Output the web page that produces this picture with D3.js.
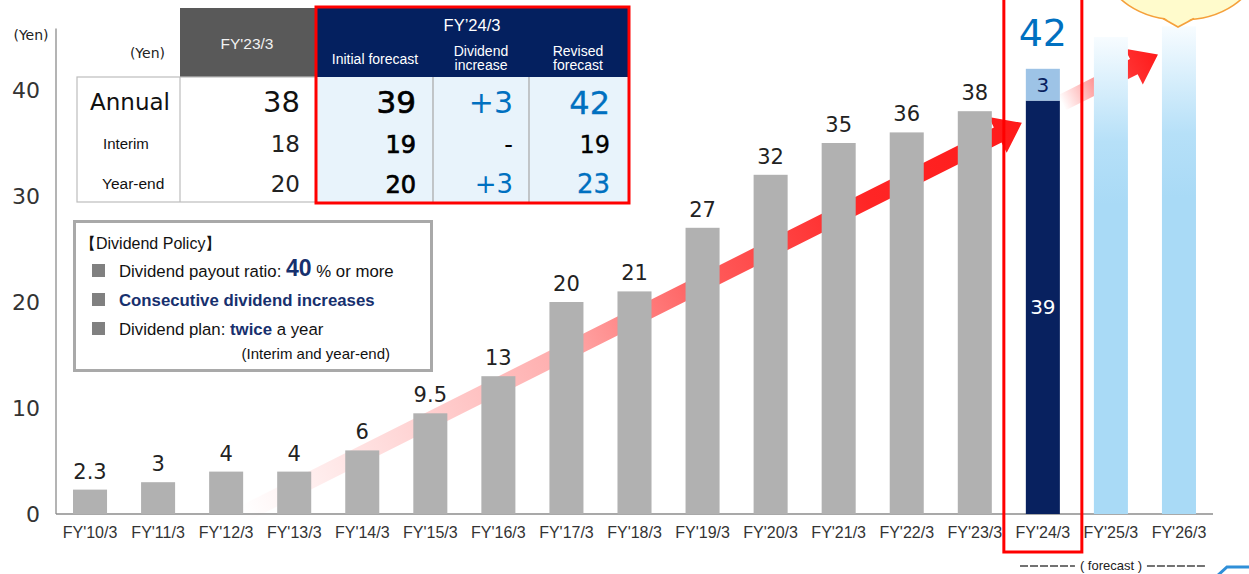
<!DOCTYPE html>
<html>
<head>
<meta charset="utf-8">
<script src="https://cdn.jsdelivr.net/npm/d3@7"></script>
<style>
  html, body { margin: 0; padding: 0; background: #fff; }
  svg { display: block; }
</style>
</head>
<body>
<svg id="chart" width="1249" height="574"></svg>
<script>
// ---- Data -------------------------------------------------------------
const categories = ["FY'10/3","FY'11/3","FY'12/3","FY'13/3","FY'14/3","FY'15/3","FY'16/3",
  "FY'17/3","FY'18/3","FY'19/3","FY'20/3","FY'21/3","FY'22/3","FY'23/3","FY'24/3","FY'25/3","FY'26/3"];
const actualDividends = [2.3, 3, 4, 4, 6, 9.5, 13, 20, 21, 27, 32, 35, 36, 38]; // FY'10/3 – FY'23/3
const fy24Initial = 39;
const fy24Increase = 3;
const fy24Revised = fy24Initial + fy24Increase;
const forecastCategories = ["FY'25/3", "FY'26/3"];
const forecastLevels = [45, 46];
const yTicks = [0, 10, 20, 30, 40];

const tableRows = ["Annual", "Interim", "Year-end"];
const fy23Values = ["38", "18", "20"];
const initialForecast = ["39", "19", "20"];
const dividendIncrease = ["+3", "-", "+3"];
const revisedForecast = ["42", "19", "23"];

// ---- Scales -----------------------------------------------------------
const svg = d3.select("#chart");
const x = d3.scaleBand().domain(categories).range([56, 1213]).paddingInner(0.5).paddingOuter(0.25);
const y = d3.scaleLinear().domain([0, 40]).range([514, 90]);
const bw = x.bandwidth();
const cx = c => x(c) + bw / 2;

const NUM = "'DejaVu Sans', Verdana, sans-serif";
const SANS = "'Liberation Sans', Arial, sans-serif";
const NAVY = "#08215f";
const BLUE = "#0070c0";

const defs = svg.append("defs");

// ---- Growth arrows (drawn behind the bars) ----------------------------
function arrowPoints(s, t, w, h, L) {
  const dx = t[0] - s[0], dy = t[1] - s[1];
  const len = Math.hypot(dx, dy);
  const ux = dx / len, uy = dy / len;
  const nx = -uy, ny = ux;
  const neck = [t[0] - ux * L, t[1] - uy * L];
  return [
    [s[0] + nx * w, s[1] + ny * w],
    [neck[0] + nx * w, neck[1] + ny * w],
    [neck[0] + nx * h, neck[1] + ny * h],
    t,
    [neck[0] - nx * h, neck[1] - ny * h],
    [neck[0] - nx * w, neck[1] - ny * w],
    [s[0] - nx * w, s[1] - ny * w]
  ];
}
function addArrowGradient(id, s, t, stops) {
  const g = defs.append("linearGradient").attr("id", id)
    .attr("gradientUnits", "userSpaceOnUse")
    .attr("x1", s[0]).attr("y1", s[1]).attr("x2", t[0]).attr("y2", t[1]);
  stops.forEach(([o, a]) => g.append("stop").attr("offset", o).attr("stop-color", "#ff1a1a").attr("stop-opacity", a));
}
const tail = [x("FY'12/3") + bw, y(0)];
const tip1 = [x("FY'24/3") - 4, y(36.9)];
const slope = (tip1[1] - tail[1]) / (tip1[0] - tail[0]);
const onLine = px => [px, tail[1] + slope * (px - tail[0])];
const start2 = onLine(x("FY'24/3") + bw + 2);
const tip2 = onLine(x("FY'26/3") - 4);

addArrowGradient("arrowGrad1", tail, tip1, [[0, 0], [0.12, 0.1], [0.4, 0.35], [0.6, 0.72], [0.8, 0.95], [1, 1]]);
addArrowGradient("arrowGrad2", start2, tip2, [[0, 0], [0.35, 0.45], [0.7, 0.9], [1, 1]]);

const line = d3.line();
svg.append("path").attr("d", line(arrowPoints(tail, tip1, 8.5, 20, 27)) + "Z").attr("fill", "url(#arrowGrad1)");
svg.append("path").attr("d", line(arrowPoints(start2, tip2, 8.5, 20, 27)) + "Z").attr("fill", "url(#arrowGrad2)");

// ---- Axes -------------------------------------------------------------
svg.append("line").attr("x1", 56).attr("x2", 56).attr("y1", y(45.8)).attr("y2", y(0))
  .attr("stroke", "#8c8c8c").attr("stroke-width", 1.3);
svg.append("line").attr("x1", 56).attr("x2", 1213).attr("y1", y(0)).attr("y2", y(0))
  .attr("stroke", "#8c8c8c").attr("stroke-width", 1.3);

const yAxis = svg.append("g").attr("transform", "translate(40,0)")
  .call(d3.axisLeft(y).tickValues(yTicks).tickSize(0).tickPadding(0));
yAxis.select(".domain").remove();
yAxis.selectAll("text").attr("font-family", NUM).attr("font-size", 22).attr("fill", "#333");

svg.append("text").attr("x", 31).attr("y", 40).attr("text-anchor", "middle")
  .attr("font-family", NUM).attr("font-size", 14).attr("fill", "#222").text("(Yen)");

const xAxis = svg.append("g").attr("transform", `translate(0,${y(0) + 12})`)
  .call(d3.axisBottom(x).tickSize(0).tickPadding(0));
xAxis.select(".domain").remove();
xAxis.selectAll("text").attr("font-family", SANS).attr("font-size", 16).attr("fill", "#333").attr("dy", "0.75em");

// ---- Forecast bars ---------------------------------------------------
const fg = defs.append("linearGradient").attr("id", "forecastGrad").attr("x1", 0).attr("y1", 0).attr("x2", 0).attr("y2", 1);
fg.append("stop").attr("offset", 0).attr("stop-color", "#f7fcff");
fg.append("stop").attr("offset", 0.22).attr("stop-color", "#b6e0f8");
fg.append("stop").attr("offset", 0.35).attr("stop-color", "#a9daf6");
fg.append("stop").attr("offset", 1).attr("stop-color", "#a9daf6");

svg.append("g").selectAll("rect").data(forecastCategories).join("rect")
  .attr("x", d => x(d)).attr("width", bw)
  .attr("y", (d, i) => y(forecastLevels[i]))
  .attr("height", (d, i) => y(0) - y(forecastLevels[i]))
  .attr("fill", "url(#forecastGrad)");

// ---- Actual dividend bars --------------------------------------------
const actualCats = categories.slice(0, actualDividends.length);
svg.append("g").selectAll("rect").data(actualDividends).join("rect")
  .attr("x", (d, i) => x(actualCats[i])).attr("width", bw)
  .attr("y", d => y(d)).attr("height", d => y(0) - y(d))
  .attr("fill", "#b1b1b1");

svg.append("g").selectAll("text").data(actualDividends).join("text")
  .attr("x", (d, i) => cx(actualCats[i])).attr("y", d => y(d) - 11)
  .attr("text-anchor", "middle").attr("font-family", NUM).attr("font-size", 21).attr("fill", "#222")
  .text(d => d);

// ---- FY'24/3 stacked bar ---------------------------------------------
const c24 = "FY'24/3";
svg.append("rect").attr("x", x(c24)).attr("width", bw)
  .attr("y", y(fy24Initial)).attr("height", y(0) - y(fy24Initial)).attr("fill", NAVY);
svg.append("rect").attr("x", x(c24)).attr("width", bw)
  .attr("y", y(fy24Revised)).attr("height", y(fy24Initial) - y(fy24Revised)).attr("fill", "#9dc3e6");
svg.append("text").attr("x", cx(c24)).attr("y", y(fy24Initial / 2)).attr("dy", "0.35em")
  .attr("text-anchor", "middle").attr("font-family", NUM).attr("font-size", 20).attr("fill", "#fff").text(fy24Initial);
svg.append("text").attr("x", cx(c24)).attr("y", y(fy24Initial + fy24Increase / 2)).attr("dy", "0.36em")
  .attr("text-anchor", "middle").attr("font-family", NUM).attr("font-size", 20).attr("fill", NAVY).text(fy24Increase);
svg.append("text").attr("x", cx(c24)).attr("y", y(fy24Revised) - 23)
  .attr("text-anchor", "middle").attr("font-family", NUM).attr("font-size", 38).attr("fill", BLUE).text(fy24Revised);

svg.append("rect").attr("x", cx(c24) - 39).attr("y", -3).attr("width", 78).attr("height", 555)
  .attr("fill", "none").attr("stroke", "#ff0000").attr("stroke-width", 3);

// ---- Forecast caption -------------------------------------------------
const fcx = (cx("FY'25/3") + cx("FY'26/3")) / 2 - 34;
svg.append("text").attr("x", fcx).attr("y", 570).attr("text-anchor", "middle")
  .attr("font-family", SANS).attr("font-size", 13).attr("fill", "#222").text("( forecast )");
[[1020, fcx - 36], [fcx + 36, 1206]].forEach(([a, b]) => {
  svg.append("line").attr("x1", a).attr("x2", b).attr("y1", 566).attr("y2", 566)
    .attr("stroke", "#444").attr("stroke-width", 1.4).attr("stroke-dasharray", "8,2");
});

// corner of the next panel element
svg.append("path").attr("d", "M1216,577 L1227,567 L1252,567").attr("fill", "none")
  .attr("stroke", "#2f8fd8").attr("stroke-width", 3);

// ---- Speech bubble ----------------------------------------------------
const bub = svg.append("g");
bub.append("ellipse").attr("cx", 1181).attr("cy", -30).attr("rx", 74).attr("ry", 50)
  .attr("fill", "#fffbcc").attr("stroke", "#f5a03a").attr("stroke-width", 1.6);
bub.append("path").attr("d", "M1163,17 L1178,27 L1194,17 Z").attr("fill", "#fffbcc");
bub.append("path").attr("d", "M1163,18.5 L1178,27 L1194,18.5").attr("fill", "none")
  .attr("stroke", "#f5a03a").attr("stroke-width", 1.6);

// ---- Dividend table ---------------------------------------------------
const tbl = svg.append("g");
const rowBottom = 202;
const rowCenters = [102, 144, 184];

// headers
tbl.append("rect").attr("x", 180).attr("y", 8).attr("width", 136).attr("height", 69).attr("fill", "#595959");
tbl.append("text").attr("x", 247).attr("y", 44).attr("dy", "0.35em").attr("text-anchor", "middle")
  .attr("font-family", SANS).attr("font-size", 15.5).attr("fill", "#f2f2f2").text("FY'23/3");
tbl.append("text").attr("x", 165).attr("y", 53).attr("dy", "0.35em").attr("text-anchor", "end")
  .attr("font-family", NUM).attr("font-size", 14).attr("fill", "#222").text("(Yen)");

tbl.append("rect").attr("x", 317).attr("y", 8).attr("width", 311).attr("height", 69).attr("fill", "#04205f");
tbl.append("rect").attr("x", 317).attr("y", 77).attr("width", 311).attr("height", 125).attr("fill", "#e8f3fb");
tbl.append("text").attr("x", 472).attr("y", 25).attr("dy", "0.35em").attr("text-anchor", "middle")
  .attr("font-family", SANS).attr("font-size", 16.5).attr("fill", "#fff").text("FY’24/3");
const subHeads = [
  { cx: 375, lines: ["Initial forecast"] },
  { cx: 481, lines: ["Dividend", "increase"] },
  { cx: 578, lines: ["Revised", "forecast"] }
];
subHeads.forEach(h => {
  const ys = h.lines.length === 1 ? [59] : [51, 65];
  h.lines.forEach((t, i) => tbl.append("text").attr("x", h.cx).attr("y", ys[i]).attr("dy", "0.35em")
    .attr("text-anchor", "middle").attr("font-family", SANS).attr("font-size", 14).attr("fill", "#fff").text(t));
});

// grid
tbl.append("rect").attr("x", 77).attr("y", 77).attr("width", 239).attr("height", 125)
  .attr("fill", "none").attr("stroke", "#bdbdbd").attr("stroke-width", 1.2);
tbl.append("line").attr("x1", 180).attr("x2", 180).attr("y1", 77).attr("y2", rowBottom).attr("stroke", "#bdbdbd").attr("stroke-width", 1.2);
[433, 529].forEach(vx => tbl.append("line").attr("x1", vx).attr("x2", vx).attr("y1", 77).attr("y2", rowBottom)
  .attr("stroke", "#a6a6a6").attr("stroke-width", 1.2));

// row labels
const labelStyle = [
  { x: 90, size: 23, font: NUM },
  { x: 103, size: 15, font: SANS },
  { x: 102, size: 15.5, font: SANS }
];
tableRows.forEach((r, i) => {
  const s = labelStyle[i];
  tbl.append("text").attr("x", s.x).attr("y", rowCenters[i]).attr("dy", "0.35em")
    .attr("font-family", s.font).attr("font-size", s.size).attr("fill", "#111").text(r);
});

// values
function valueColumn(values, rightX, opts) {
  values.forEach((v, i) => {
    const t = tbl.append("text").attr("x", rightX).attr("y", rowCenters[i]).attr("dy", "0.36em")
      .attr("text-anchor", "end").attr("font-family", NUM)
      .attr("font-size", opts.size[i])
      .attr("fill", opts.color[i]).text(v);
    if (opts.heavy) t.attr("stroke", opts.color[i]).attr("stroke-width", opts.heavy);
  });
}
valueColumn(fy23Values, 300, { size: [29, 23, 23], color: ["#111", "#222", "#222"] });
valueColumn(initialForecast, 416, { size: [31, 24, 24], color: ["#000", "#000", "#000"], heavy: 0.7 });
valueColumn(dividendIncrease, 513, { size: [30, 24, 26], color: [BLUE, "#000", BLUE] });
valueColumn(revisedForecast, 610, { size: [32, 24, 26], color: [BLUE, "#000", BLUE], heavy: 0.3 });

// red highlight around FY'24/3 columns
tbl.append("rect").attr("x", 316).attr("y", 7).attr("width", 313).attr("height", 196)
  .attr("fill", "none").attr("stroke", "#ff0000").attr("stroke-width", 3);

// ---- Dividend policy box ----------------------------------------------
const pol = svg.append("g");
pol.append("rect").attr("x", 74.5).attr("y", 221.5).attr("width", 357).attr("height", 149)
  .attr("fill", "#fff").attr("stroke", "#a9a9a9").attr("stroke-width", 3);
pol.append("text").attr("x", 80).attr("y", 243).attr("dy", "0.35em")
  .attr("font-family", SANS).attr("font-size", 16).attr("fill", "#111").text("【Dividend Policy】");

const bulletY = [271, 300, 329];
bulletY.forEach(by => pol.append("rect").attr("x", 92).attr("y", by - 7).attr("width", 13).attr("height", 13).attr("fill", "#808080"));

const POLNAVY = "#17306e";
const l1 = pol.append("text").attr("x", 119).attr("y", bulletY[0]).attr("dy", "0.35em")
  .attr("font-family", SANS).attr("font-size", 16.8).attr("fill", "#111");
l1.append("tspan").text("Dividend payout ratio: ");
l1.append("tspan").attr("font-size", 23).attr("font-weight", "bold").attr("fill", POLNAVY).attr("dy", "-1").text("40");
l1.append("tspan").attr("dy", "1").text(" % or more");

pol.append("text").attr("x", 119).attr("y", bulletY[1]).attr("dy", "0.35em")
  .attr("font-family", SANS).attr("font-size", 16.8).attr("font-weight", "bold").attr("fill", POLNAVY)
  .text("Consecutive dividend increases");

const l3 = pol.append("text").attr("x", 119).attr("y", bulletY[2]).attr("dy", "0.35em")
  .attr("font-family", SANS).attr("font-size", 16.8).attr("fill", "#111");
l3.append("tspan").text("Dividend plan: ");
l3.append("tspan").attr("font-weight", "bold").attr("fill", POLNAVY).text("twice");
l3.append("tspan").text(" a year");

pol.append("text").attr("x", 390).attr("y", 354).attr("dy", "0.35em").attr("text-anchor", "end")
  .attr("font-family", SANS).attr("font-size", 15).attr("fill", "#111").text("(Interim and year-end)");
</script>
</body>
</html>
